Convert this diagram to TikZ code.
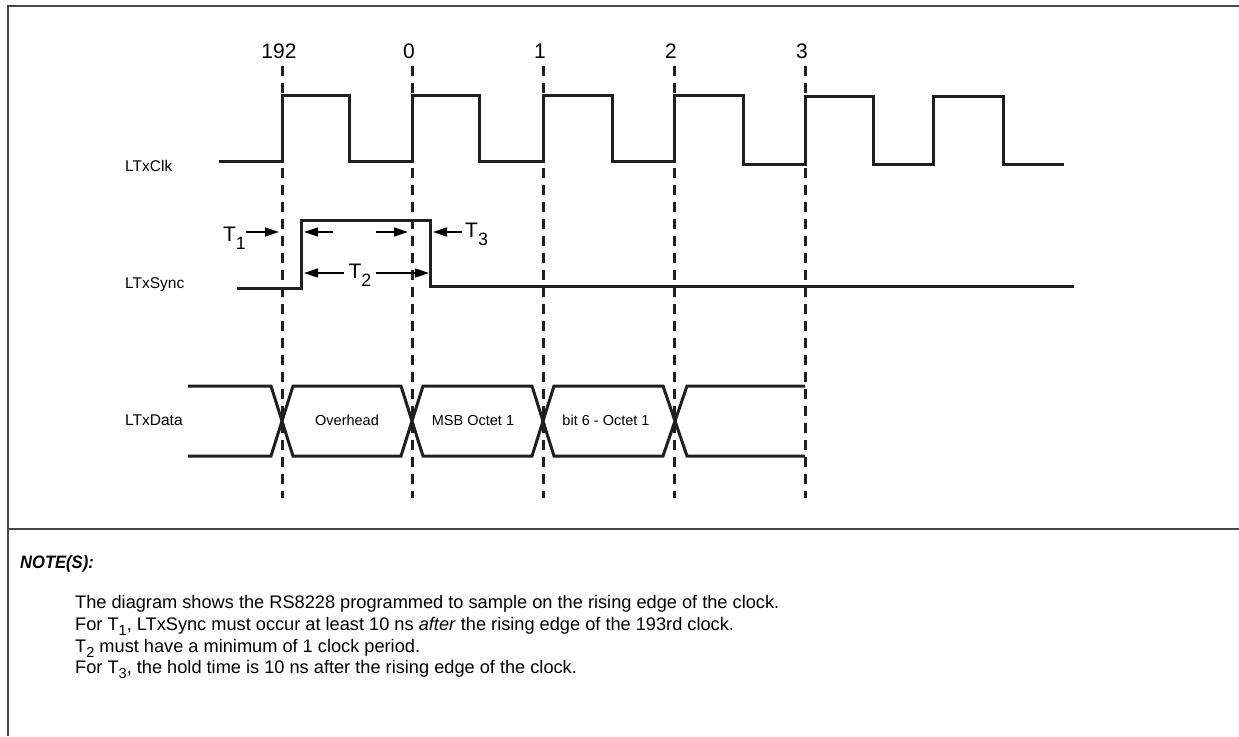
\documentclass[tikz,border=0pt]{standalone}
\usepackage{fontspec}
\setmainfont{Liberation Sans}
\newfontfamily\notefont[FakeStretch=0.92]{Liberation Sans}
\usetikzlibrary{arrows.meta}
\newcommand{\tsub}[1]{\raisebox{-0.42em}{\scalebox{0.85}{#1}}}
\newcommand{\nsub}[1]{\raisebox{-0.3em}{\scalebox{0.8}{#1}}}

\begin{document}
\begin{tikzpicture}[x=1pt,y=-1pt,
    signal/.style={line width=3pt,color=black!88,line join=miter},
    edgeline/.style={line width=3pt,color=black!88,dash pattern=on 10pt off 7pt},
    timearrow/.style={line width=1.5pt,-{Triangle[length=14pt,width=9pt]}},
    frameline/.style={line width=1.8pt,color=black!72},
    txt/.style={inner sep=0pt,font=\fontsize{#1}{#1}\selectfont},
    txt/.default=16]
    \useasboundingbox (0,0) rectangle (1239,736);
    % frame
    \draw[frameline] (8,736) -- (8,6) -- (1240,6);
    \draw[frameline] (8,529) -- (1240,529);
    % clock edges
    \foreach \x/\n in {282/192,412/0,543/1,674/2,805/3}{
      \draw[edgeline] (\x,66) -- (\x,498);
      \node[txt=21,anchor=base] (edge\n) at (\x-3,58) {\n};
    }
    % signals
    \node[txt=15.5,anchor=base west] (clk) at (125,171) {LTxClk};
    \node[txt=15.5,anchor=base west] (sync) at (125,288) {LTxSync};
    \node[txt=15.5,anchor=base west] (data) at (125,425) {LTxData};
    \draw[signal] (219,161) -- (282,161) -- (282,95) -- (349,95) -- (349,161) -- (412,161)
      -- (412,95) -- (479,95) -- (479,161) -- (543,161) -- (543,95) -- (612,95) -- (612,161)
      -- (674,161) -- (674,95) -- (743,95) -- (743,164) -- (805,164) -- (805,96) -- (873,96)
      -- (873,164) -- (933,164) -- (933,96) -- (1003,96) -- (1003,164) -- (1064,164);
    \draw[signal] (237,288) -- (301,288) -- (301,220) -- (430,220) -- (430,286) -- (1074,286);
    \draw[signal] (188,386) -- (271,386) -- (293,456) -- (401,456) -- (423,386) -- (532,386)
      -- (554,456) -- (663,456) -- (687,386) -- (805,386);
    \draw[signal] (188,456) -- (271,456) -- (293,386) -- (401,386) -- (423,456) -- (532,456)
      -- (554,386) -- (663,386) -- (687,456) -- (805,456);
    \node[txt=14.5,anchor=base] (ovh) at (347,425) {Overhead};
    \node[txt=14.5,anchor=base] (msb) at (473,425) {MSB Octet 1};
    \node[txt=14.5,anchor=base] (bit6) at (606,425) {bit 6 - Octet 1};
    % timing marks
    \node[txt=21,anchor=base east] (t1) at (246,241) {T\tsub{1}};
    \node[txt=21,anchor=base west,inner xsep=3pt] (t3) at (462,237) {T\tsub{3}};
    \node[txt=21,anchor=base,inner xsep=4pt] (t2) at (360,278) {T\tsub{2}};
    \draw[timearrow] (t1.east |- 0,232) -- (279,232);
    \draw[timearrow] (333,232) -- (304,232);
    \draw[timearrow] (376,232) -- (408,232);
    \draw[timearrow] (t3.west |- 0,232) -- (433,232);
    \draw[timearrow] (t2.west |- 0,273) -- (304,273);
    \draw[timearrow] (t2.east |- 0,273) -- (429,273);
    % notes
    \node[anchor=base west,inner sep=0pt,font=\notefont\fontsize{18}{18}\selectfont\bfseries\itshape] (notes) at (20,568) {NOTE(S):};
    \node[txt=18.2,anchor=base west] (n1) at (75,608) {The diagram shows the RS8228 programmed to sample on the rising edge of the clock.};
    \node[txt=18.2,anchor=base west] (n2) at (75,630) {For T\nsub{1}, LTxSync must occur at least 10 ns \textit{after} the rising edge of the 193rd clock.};
    \node[txt=18.2,anchor=base west] (n3) at (75,652) {T\nsub{2} must have a minimum of 1 clock period.};
    \node[txt=18.2,anchor=base west] (n4) at (75,673) {For T\nsub{3}, the hold time is 10 ns after the rising edge of the clock.};
  \end{tikzpicture}
\end{document}
